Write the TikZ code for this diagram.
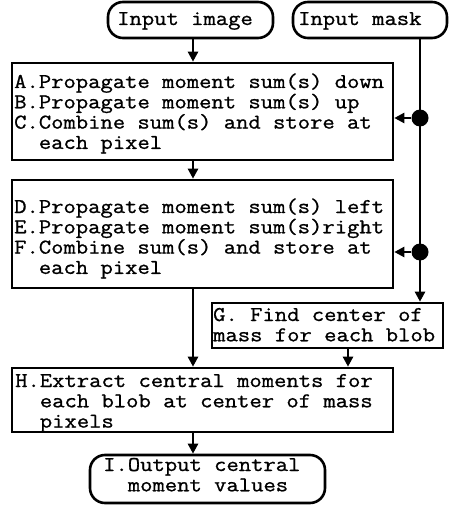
\documentclass[tikz,border=0pt]{standalone}
\usepackage{fontspec}
\setmonofont[FakeStretch=1.14,FakeBold=1]{Latin Modern Mono}
\usetikzlibrary{arrows.meta}
\newcommand{\txtblock}[2]{\parbox[t]{#1}{\raggedright #2}}
\begin{document}
\begin{tikzpicture}[x=1pt,y=-1pt,
  font=\ttfamily\fontsize{21}{20.3}\selectfont,
  box/.style={draw,line width=2.6pt,inner sep=0pt,anchor=center},
  term/.style={box,rounded corners=15pt},
  txt/.style={inner sep=0pt,anchor=base west},
  arr/.style={line width=2.4pt,-{Triangle[width=10pt,length=10pt]}},
  ln/.style={line width=2.4pt},
  dot/.style={circle,fill,inner sep=0pt,minimum size=17pt}]
\useasboundingbox (0,0) rectangle (452,508);
% boxes
\node[term,minimum width=165pt,minimum height=36pt] (img) at (190.5,20) {};
\node[term,minimum width=154pt,minimum height=36pt] (mask) at (370,20) {};
\node[box,minimum width=381pt,minimum height=97pt] (A) at (202.5,111.5) {};
\node[box,minimum width=381pt,minimum height=108pt] (D) at (202.5,234) {};
\node[box,minimum width=231pt,minimum height=45pt] (G) at (327.5,325.5) {};
\node[box,minimum width=381pt,minimum height=64pt] (H) at (202.5,400) {};
\node[term,minimum width=235pt,minimum height=48pt] (I) at (207.5,479) {};
% texts
\node[txt] (imgt) at (117,25) {Input image};
\node[txt] (maskt) at (298,25) {Input mask};
\node[txt] (At) at (14,88) {\txtblock{378pt}{A.Propagate moment sum(s) down\\B.Propagate moment sum(s) up\\C.Combine sum(s) and store at\\\phantom{xx}each pixel}};
\node[txt] (Dt) at (14,213) {\txtblock{378pt}{D.Propagate moment sum(s) left\\E.Propagate moment sum(s)right\\F.Combine sum(s) and store at\\\phantom{xx}each pixel}};
\node[txt] (Gt) at (213,321) {\txtblock{230pt}{G. Find center of\\mass for each blob}};
\node[txt] (Ht) at (15,387) {\txtblock{376pt}{H.Extract central moments for\\\phantom{xx}each blob at center of mass\\\phantom{xx}pixels}};
\node[txt] (It) at (103,471) {\txtblock{220pt}{I.Output central\\\phantom{xx}moment values}};
% connectors
\coordinate (cx) at (193,0);
\coordinate (mx) at (420,0);
\coordinate (gx) at (348,0);
\node[dot] (d1) at (420,118) {};
\node[dot] (d2) at (420,252) {};
\draw[arr] (img.south -| cx) -- (A.north -| cx);
\draw[arr] (A.south -| cx) -- (D.north -| cx);
\draw[arr] (D.south -| cx) -- (H.north -| cx);
\draw[arr] (H.south -| cx) -- (I.north -| cx);
\draw[ln] (mask.south -| mx) -- (d1.center) -- (d2.center);
\draw[arr] (d2.center) -- (G.north -| mx);
\draw[arr] (d1) -- (A.east |- d1);
\draw[arr] (d2) -- (D.east |- d2);
\draw[arr] (G.south -| gx) -- (H.north -| gx);
\end{tikzpicture}
\end{document}
